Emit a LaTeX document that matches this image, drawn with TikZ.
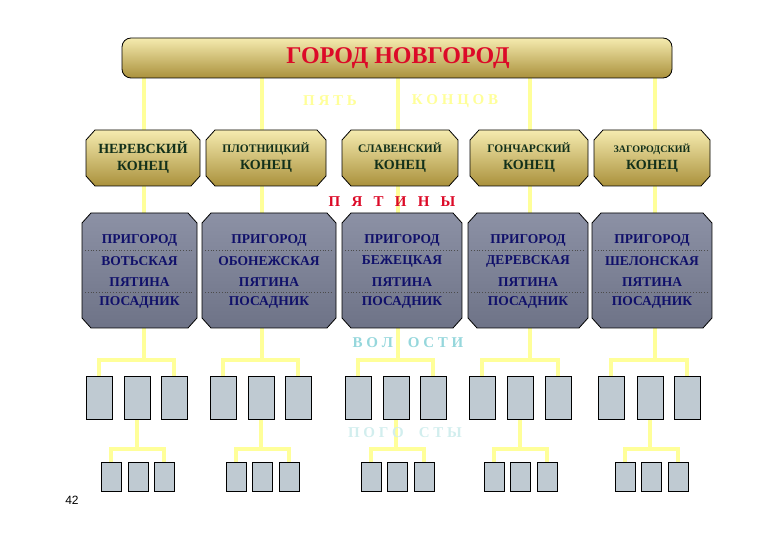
\documentclass[tikz,border=0pt]{standalone}
\usepackage{fontspec}
\setmainfont{Liberation Serif}
\newfontfamily\sansf{Liberation Sans}
\definecolor{yel}{HTML}{FFFF99}
\definecolor{navyt}{HTML}{10106A}
\definecolor{dgreen}{HTML}{12301A}
\definecolor{boxg}{HTML}{BFCAD2}
\definecolor{goldt}{RGB}{245,235,175}
\definecolor{goldb}{RGB}{170,145,60}
\definecolor{silt}{RGB}{140,145,165}
\definecolor{silb}{RGB}{110,115,135}
\definecolor{redt}{RGB}{220,10,40}
\definecolor{cyant}{RGB}{150,215,220}
\definecolor{pogt}{RGB}{210,238,238}
\tikzset{
 conn/.style={draw=yel,line width=3.5pt},
 goldbar/.style={draw=black,rounded corners=9pt,top color=goldt,bottom color=goldb,line width=0.8pt},
 goldsh/.style={draw=black,line width=0.8pt,top color=goldt,bottom color=goldb},
 silsh/.style={draw=black,line width=0.8pt,top color=silt,middle color=white,bottom color=silb},
 ktxt/.style={align=center,text=dgreen,font=\bfseries\fontsize{14}{15}\selectfont},
 ptxt/.style={text=navyt,font=\bfseries\fontsize{13.5}{14}\selectfont},
 small/.style={draw=black,fill=boxg,line width=0.8pt,inner sep=0pt},
}
\newcommand\octo[5]{\path[#5] (#1+9,#2) -- (#3-9,#2) -- (#3,#2+10) -- (#3,#4-10) -- (#3-9,#4) -- (#1+9,#4) -- (#1,#4-10) -- (#1,#2+10) -- cycle;}
\begin{document}
\begin{tikzpicture}[x=1pt,y=-1pt]
\useasboundingbox (0,0) rectangle (780,540);
\def\cols{144/86/200/82/197/86/124/161/101/128/154/1/{НЕРЕВСКИЙ}/{ВОТЬСКАЯ}/\fontsize{14}{15}\selectfont,
262/206/326/202/336/210/248/285/226/252/279/2/{ПЛОТНИЦКИЙ}/{ОБОНЕЖСКАЯ}/\fontsize{11.5}{12}\selectfont,
398/342/458/342/462/345/383/420/361/387/414/3/{СЛАВЕНСКИЙ}/{БЕЖЕЦКАЯ}/\fontsize{11.5}{12}\selectfont,
530/470/588/468/588/469/507/545/484/510/537/4/{ГОНЧАРСКИЙ}/{ДЕРЕВСКАЯ}/\fontsize{11.5}{12}\selectfont,
655/594/710/592/712/598/637/674/615/641/668/5/{ЗАГОРОДСКИЙ}/{ШЕЛОНСКАЯ}/\fontsize{10}{11}\selectfont}
\foreach \c/\kl/\kr/\pl/\pr/\a/\b/\d/\e/\f/\g/\i/\kn/\pn/\fs in \cols {
  \coordinate (t\i) at (\c,78);
  \coordinate (h\i) at (\c,360);
  \coordinate (hl\i) at (\a+13,360);
  \coordinate (hr\i) at (\d+13,360);
  \coordinate (m\i) at (\b+13,419);
  \coordinate (g\i) at (\b+13,449);
  \coordinate (gl\i) at (\e+10,449);
  \coordinate (gr\i) at (\g+10,449);
  \draw[conn] (t\i) -- (h\i);
  \draw[conn] (hl\i |- 0,376) -- (hl\i) -- (hr\i) -- (hr\i |- 0,376);
  \draw[conn] (m\i) -- (g\i);
  \draw[conn] (gl\i |- 0,462) -- (gl\i) -- (gr\i) -- (gr\i |- 0,462);
}
\node[goldbar,minimum width=550pt,minimum height=40pt] (top) at (397,58) {};
\node[text=redt,font=\bfseries\fontsize{24}{26}\selectfont] (title) at (398,58) {ГОРОД НОВГОРОД};
\node[text=yel,font=\bfseries\fontsize{15}{16}\selectfont] (pk1) at (330,101) {П Я Т Ь};
\node[text=yel,font=\bfseries\fontsize{15}{16}\selectfont] (pk2) at (455,101) {К О Н Ц О В};
\node[text=redt,font=\bfseries\fontsize{15}{16}\selectfont] (pyt) at (392,202) {П\enspace\ Я\enspace\ Т\enspace\ И\enspace\ Н\enspace\ Ы};
\node[text=cyant,font=\bfseries\fontsize{15}{16}\selectfont] (vol) at (408,343) {В О Л\quad О С Т И};
\node[text=pogt,font=\bfseries\fontsize{15}{16}\selectfont] (pog) at (405,433) {П О Г О\quad С Т Ы};
\foreach \c/\kl/\kr/\pl/\pr/\a/\b/\d/\e/\f/\g/\i/\kn/\pn/\fs in \cols {
  \octo{\kl}{130}{\kr}{186}{goldsh}
  \node[ktxt] (k\i) at ({(\kl+\kr)/2},158) {{\fs\kn}\\[2pt]КОНЕЦ};
  \octo{\pl}{213}{\pr}{328}{silsh}
  \coordinate (p\i) at ({(\pl+\pr)/2},270);
  \draw[dotted,thick,gray!60!black] (\pl+3,250) -- (\pr-3,250) (\pl+3,292) -- (\pr-3,292);
  \node[ptxt] (pa\i) at (p\i |- 0,240) {ПРИГОРОД};
  \node[ptxt] (pb\i) at (p\i |- 0,261) {\pn};
  \node[ptxt] (pc\i) at (p\i |- 0,282) {ПЯТИНА};
  \node[ptxt] (pd\i) at (p\i |- 0,302) {ПОСАДНИК};
  \node[small,minimum width=26pt,minimum height=43pt] (va\i) at (\a+13,397.5) {};
  \node[small,minimum width=26pt,minimum height=43pt] (vb\i) at (\b+13,397.5) {};
  \node[small,minimum width=26pt,minimum height=43pt] (vc\i) at (\d+13,397.5) {};
  \node[small,minimum width=20pt,minimum height=29pt] (ga\i) at (\e+10,476.5) {};
  \node[small,minimum width=20pt,minimum height=29pt] (gb\i) at (\f+10,476.5) {};
  \node[small,minimum width=20pt,minimum height=29pt] (gc\i) at (\g+10,476.5) {};
}
\node[font=\sansf\fontsize{12}{13}\selectfont] (num) at (72,500) {42};
\end{tikzpicture}
\end{document}
